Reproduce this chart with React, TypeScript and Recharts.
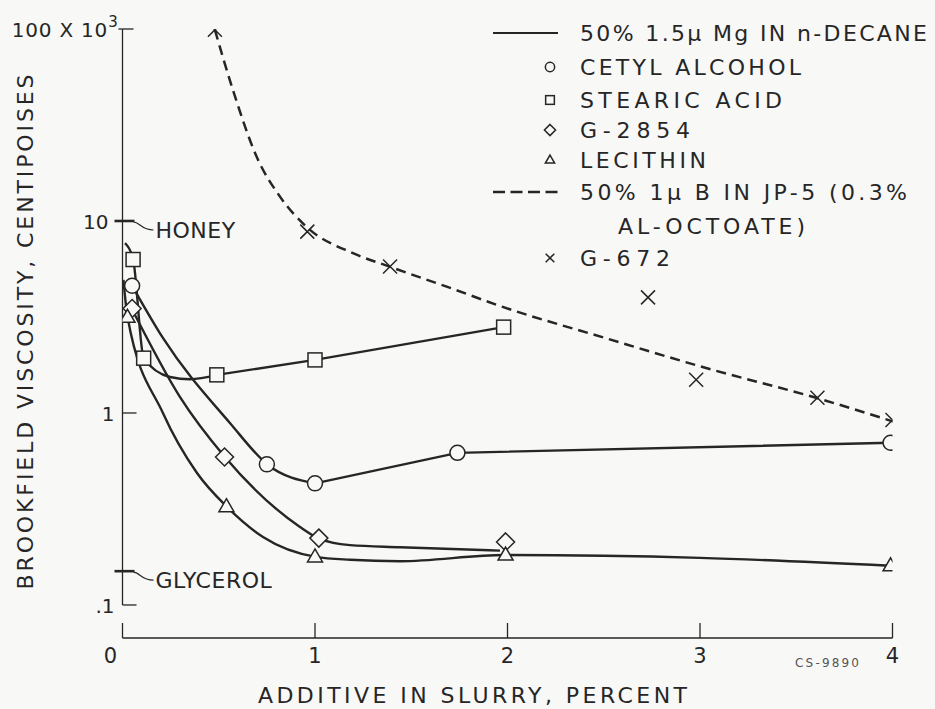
import React from 'react';
import { ComposedChart, Line, Scatter, XAxis, YAxis, ReferenceLine } from 'recharts';

const W = 935;
const H = 709;
const INK = '#262626';
const PAPER = '#f8f8f7';
const FONT = '"DejaVu Sans", Verdana, sans-serif';

// axis ticks (viscosity in centipoises x 10^3, log scale)
const xTicks = [0, 1, 2, 3, 4];
const yTicks = [0.1, 0.15, 1, 10, 100];
const yTickLabels = ['.1', '', '1', '10', '100 X 10'];
const yExponent = '3';
const refValues = [0.15, 10];
const refNames = ['GLYCEROL', 'HONEY'];

// measured points
const cetylX = [0.05, 0.75, 1.0, 1.74, 3.99];
const cetylY = [4.6, 0.54, 0.43, 0.62, 0.7];
const stearicX = [0.055, 0.11, 0.49, 1.0, 1.98];
const stearicY = [6.3, 1.93, 1.58, 1.89, 2.8];
const g2854X = [0.05, 0.53, 1.02, 1.99];
const g2854Y = [3.5, 0.59, 0.223, 0.213];
const lecithinX = [0.026, 0.54, 1.0, 1.99, 3.99];
const lecithinY = [3.15, 0.325, 0.178, 0.182, 0.16];
const g672X = [0.48, 0.96, 1.39, 2.73, 2.98, 3.61, 4.0];
const g672Y = [99, 8.8, 5.8, 4.0, 1.49, 1.2, 0.92];

// faired curves as drawn on the original (the straight runs join the points directly)
const cetylCurveX = [0.048, 0.21, 0.558, 0.756, 1.0];
const cetylCurveY = [4.64, 2.46, 0.887, 0.536, 0.43];
const stearicCurveX = [0.013, 0.055, 0.11, 0.247, 0.351, 0.49];
const stearicCurveY = [7.67, 6.34, 1.93, 1.54, 1.5, 1.58];
const g2854CurveX = [0.049, 0.299, 0.532, 0.922, 1.016, 1.182, 1.442, 1.961];
const g2854CurveY = [3.48, 1.21, 0.59, 0.255, 0.223, 0.205, 0.2, 0.192];
const lecithinCurveX = [0.005, 0.026, 0.21, 0.387, 0.543, 0.73, 1.005, 1.182, 1.442, 1.987, 3.0, 3.987];
const lecithinCurveY = [4.93, 3.16, 1.0, 0.487, 0.324, 0.226, 0.178, 0.172, 0.169, 0.182, 0.176, 0.16];
const jp5CurveX = [0.48, 0.574, 0.697, 0.818, 0.957, 1.197, 1.384, 1.684, 1.971, 2.506, 3.036, 3.603, 4.008];
const jp5CurveY = [99, 48, 21.6, 13.4, 9.3, 6.8, 5.8, 4.55, 3.58, 2.46, 1.71, 1.2, 0.9];

// legend
const legendLabels = [
  '50% 1.5\u03bc Mg IN n-DECANE',
  'CETYL ALCOHOL',
  'STEARIC ACID',
  'G-2854',
  'LECITHIN',
  '50% 1\u03bc B IN JP-5 (0.3%',
  'AL-OCTOATE)',
  'G-672',
];
const legendSymbols = ['solid', 'circle', 'square', 'diamond', 'triangle', 'dashed', '', 'cross'];

const zip = (xs: number[], ys: number[]) => xs.map((x, i) => ({ x, y: ys[i] }));

const Marker = ({ kind, cx, cy, s = 1 }: any) => {
  const sw = 1.5;
  if (kind === 'circle') return <circle cx={cx} cy={cy} r={7.5 * s} fill={PAPER} stroke={INK} strokeWidth={sw} />;
  if (kind === 'square')
    return <rect x={cx - 7 * s} y={cy - 7 * s} width={14 * s} height={14 * s} fill={PAPER} stroke={INK} strokeWidth={sw} />;
  if (kind === 'diamond') {
    const d = 9 * s;
    return <polygon points={`${cx},${cy - d} ${cx + d},${cy} ${cx},${cy + d} ${cx - d},${cy}`} fill={PAPER} stroke={INK} strokeWidth={sw} />;
  }
  if (kind === 'triangle')
    return (
      <polygon
        points={`${cx},${cy - 8 * s} ${cx + 7.5 * s},${cy + 5 * s} ${cx - 7.5 * s},${cy + 5 * s}`}
        fill={PAPER}
        stroke={INK}
        strokeWidth={sw}
      />
    );
  const a = 7 * s;
  return <path d={`M${cx - a},${cy - a}L${cx + a},${cy + a}M${cx + a},${cy - a}L${cx - a},${cy + a}`} stroke={INK} strokeWidth={1.5} fill="none" />;
};

const XTick = ({ x, y, payload }: any) => (
  <g>
    <line x1={x} y1={y} x2={x} y2={y - 15} stroke={INK} strokeWidth={1.3} />
    <text
      x={payload.value === 0 ? x - 12 : x}
      y={y + 25}
      textAnchor="middle"
      fontSize={21}
      fontFamily={FONT}
      fill={INK}
    >
      {payload.value}
    </text>
  </g>
);

const YTick = ({ x, y, payload }: any) => {
  const v = payload.value;
  const label = yTickLabels[yTicks.indexOf(v)];
  const ri = refValues.indexOf(v);
  return (
    <g fontFamily={FONT} fill={INK}>
      {ri >= 0 ? (
        <g>
          <line x1={x - 8} y1={y} x2={x + 12} y2={y} stroke={INK} strokeWidth={2.6} />
          <path d={`M${x + 11},${y + 1}C${x + 17},${y + 1} ${x + 19},${y + 9} ${x + 31},${y + 9}`} stroke={INK} strokeWidth={1.2} fill="none" />
          <text x={x + 33} y={y + 17} fontSize={22} letterSpacing={0.5}>
            {refNames[ri]}
          </text>
        </g>
      ) : (
        <line x1={x} y1={y} x2={x + (v === 100 ? 11 : 14)} y2={y} stroke={INK} strokeWidth={1.3} />
      )}
      {v === 100 ? (
        <g>
          <line x1={x - 4} y1={y} x2={x} y2={y} stroke={INK} strokeWidth={1.3} />
          <text x={x - 4} y={y + 8} textAnchor="end" fontSize={20} letterSpacing={0.8}>
            <tspan>{label}</tspan>
            <tspan dy={-10} fontSize={15}>
              {yExponent}
            </tspan>
          </text>
        </g>
      ) : label ? (
        <text x={x - (v === 10 ? 14 : 8)} y={y + 8} textAnchor="end" fontSize={20}>
          {label}
        </text>
      ) : null}
    </g>
  );
};

const Legend = () => (
  <g fontFamily={FONT} fill={INK}>
    {legendLabels.map((label, i) => {
      const cy = [33, 67, 100, 130, 160, 192, 226, 258][i];
      const sym = legendSymbols[i];
      const left = label.startsWith('AL-') ? 618 : 580;
      const lengths = [347, 221, 202, 110, 126, 327, 187, 90];
      return (
        <g key={label}>
          {sym === 'solid' && <line x1={493} y1={cy} x2={558} y2={cy} stroke={INK} strokeWidth={2.2} />}
          {sym === 'dashed' && <line x1={493} y1={cy} x2={558} y2={cy} stroke={INK} strokeWidth={2.4} strokeDasharray="12 5.5" />}
          {sym && sym !== 'solid' && sym !== 'dashed' && <Marker kind={sym} cx={550} cy={cy} s={0.62} />}
          <text x={left} y={cy + 8} fontSize={22} textLength={lengths[i]} lengthAdjust="spacing">
            {label}
          </text>
        </g>
      );
    })}
  </g>
);

export default function App() {
  const lineProps = { dataKey: 'y', type: 'monotone' as const, stroke: INK, strokeWidth: 2.4, dot: false, isAnimationActive: false };
  return (
    <div style={{ position: 'absolute', left: 0, top: 0, width: W, height: H, background: PAPER }}>
      <ComposedChart width={W} height={H} margin={{ top: 29, right: 42.5, bottom: 41, left: 62.5 }}>
        <XAxis
          type="number"
          dataKey="x"
          domain={[0, 4]}
          ticks={xTicks}
          interval={0}
          height={30}
          tickSize={0}
          tickMargin={0}
          axisLine={{ stroke: INK, strokeWidth: 1.3 }}
          tick={<XTick />}
          allowDataOverflow
        />
        <YAxis
          type="number"
          dataKey="y"
          scale="log"
          domain={[0.0673, 100]}
          ticks={yTicks}
          interval={0}
          width={60}
          tickSize={0}
          tickMargin={0}
          axisLine={false}
          tick={<YTick />}
          allowDataOverflow
        />
        <ReferenceLine segment={[{ x: 0, y: 0.1 }, { x: 0, y: 100 }]} stroke={INK} strokeWidth={1.3} />
        <Line data={zip(cetylCurveX, cetylCurveY)} {...lineProps} />
        <Line data={zip(cetylX.slice(2), cetylY.slice(2))} {...lineProps} type="linear" />
        <Line data={zip(stearicCurveX, stearicCurveY)} {...lineProps} />
        <Line data={zip(stearicX.slice(2), stearicY.slice(2))} {...lineProps} type="linear" />
        <Line data={zip(g2854CurveX, g2854CurveY)} {...lineProps} />
        <Line data={zip(lecithinCurveX, lecithinCurveY)} {...lineProps} />
        <Line data={zip(jp5CurveX, jp5CurveY)} {...lineProps} strokeWidth={2.5} strokeDasharray="10 6" />
        <Scatter data={zip(cetylX, cetylY)} isAnimationActive={false} shape={(p: any) => <Marker kind="circle" cx={p.cx} cy={p.cy} />} />
        <Scatter data={zip(stearicX, stearicY)} isAnimationActive={false} shape={(p: any) => <Marker kind="square" cx={p.cx} cy={p.cy} />} />
        <Scatter data={zip(g2854X, g2854Y)} isAnimationActive={false} shape={(p: any) => <Marker kind="diamond" cx={p.cx} cy={p.cy} />} />
        <Scatter data={zip(lecithinX, lecithinY)} isAnimationActive={false} shape={(p: any) => <Marker kind="triangle" cx={p.cx} cy={p.cy} />} />
        <Scatter data={zip(g672X, g672Y)} isAnimationActive={false} shape={(p: any) => <Marker kind="cross" cx={p.cx} cy={p.cy} />} />
      </ComposedChart>
      <svg width={W} height={H} style={{ position: 'absolute', left: 0, top: 0, pointerEvents: 'none' }}>
        <Legend />
        <text
          transform="rotate(-90)"
          x={-332}
          y={33}
          textAnchor="middle"
          fontSize={22}
          fontFamily={FONT}
          fill={INK}
          textLength={515}
          lengthAdjust="spacing"
        >
          BROOKFIELD VISCOSITY, CENTIPOISES
        </text>
        <text x={258} y={703} fontSize={22} fontFamily={FONT} fill={INK} textLength={429} lengthAdjust="spacing">
          ADDITIVE IN SLURRY, PERCENT
        </text>
        <text x={795} y={667} fontSize={12} fontFamily={FONT} fill="#555" textLength={64} lengthAdjust="spacing">
          CS-9890
        </text>
      </svg>
    </div>
  );
}
